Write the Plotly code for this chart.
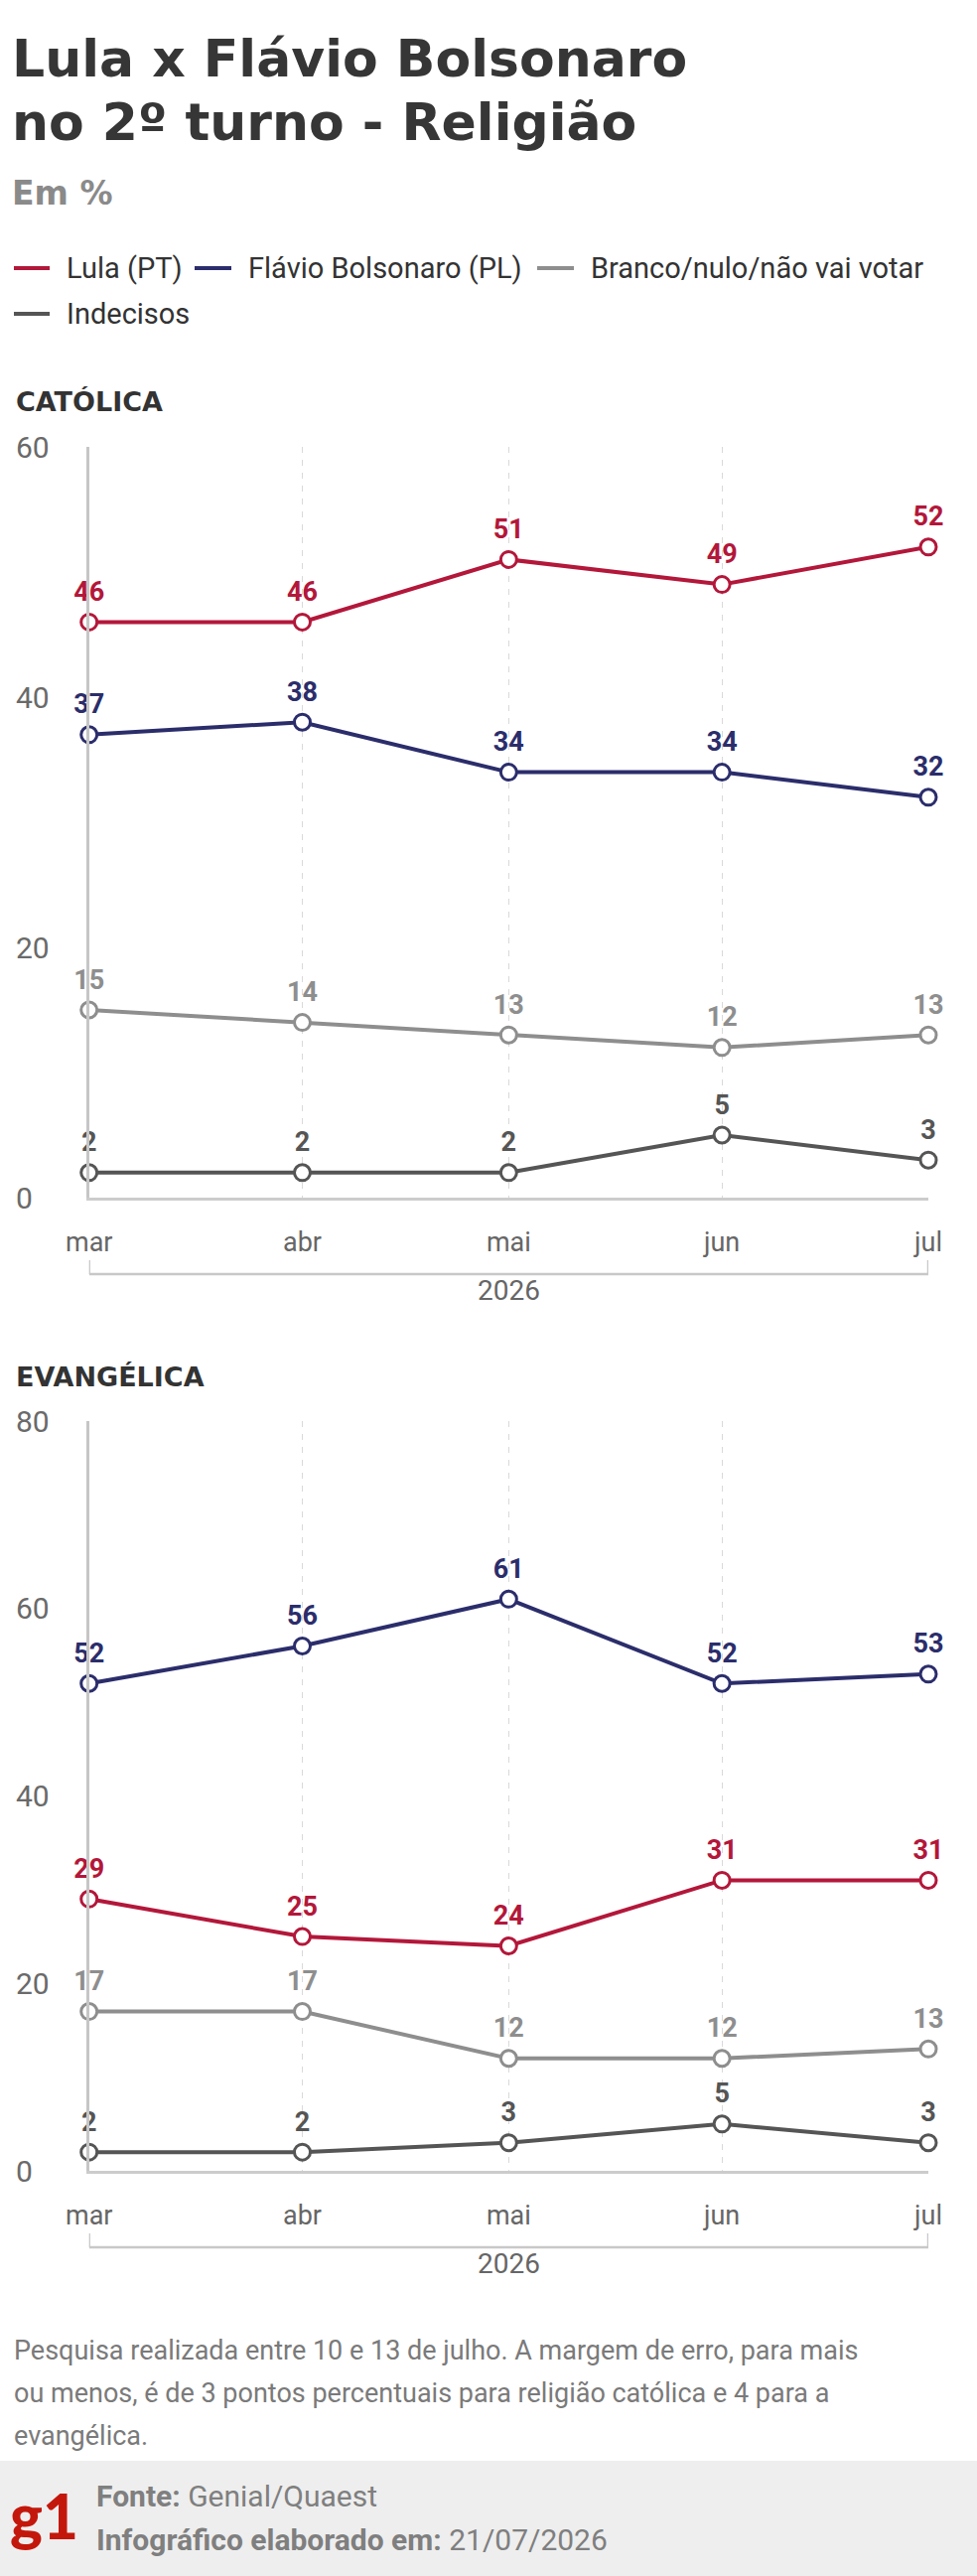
import plotly.graph_objects as go

W, H = 984, 2594

# ---------------- data ----------------
months = ["2026-03-01", "2026-04-01", "2026-05-01", "2026-06-01", "2026-07-01"]
month_labels = ["mar", "abr", "mai", "jun", "jul"]
year_label = "2026"

series_names = ["Lula (PT)", "Flávio Bolsonaro (PL)", "Branco/nulo/não vai votar", "Indecisos"]
series_colors = ["#b3173a", "#2b2d6b", "#8e8e8e", "#555555"]

catolica_lula = [46, 46, 51, 49, 52]
catolica_flavio = [37, 38, 34, 34, 32]
catolica_branco = [15, 14, 13, 12, 13]
catolica_indecisos = [2, 2, 2, 5, 3]

evangelica_lula = [29, 25, 24, 31, 31]
evangelica_flavio = [52, 56, 61, 52, 53]
evangelica_branco = [17, 17, 12, 12, 13]
evangelica_indecisos = [2, 2, 3, 5, 3]

catolica_ticks = [0, 20, 40, 60]
evangelica_ticks = [0, 20, 40, 60, 80]

panels = [
    ("CATÓLICA", [catolica_lula, catolica_flavio, catolica_branco, catolica_indecisos], catolica_ticks),
    ("EVANGÉLICA", [evangelica_lula, evangelica_flavio, evangelica_branco, evangelica_indecisos], evangelica_ticks),
]

# ---------------- layout geometry (pixels) ----------------
def py(p):
    return 1 - p / H

X_LEFT, X_RIGHT = 89.7, 935.0
panel_px = [(450, 1206), (1431, 2186)]   # (top, bottom) of each plot area
panel_title_px = [404, 1386]

BODY = "Roboto"
HEAD = "DejaVu Sans"
GRID = "#d9d9d9"
AXIS = "#c6c6c6"

fig = go.Figure()
layout_axes = {}
annotations = []
shapes = []

for i, (ptitle, values, ticks) in enumerate(panels):
    xa = "x" if i == 0 else "x2"
    ya = "y" if i == 0 else "y2"
    # lines
    for name, color, vals in zip(series_names, series_colors, values):
        fig.add_trace(go.Scatter(
            x=months, y=vals, mode="lines", name=name,
            line=dict(color=color, width=4),
            showlegend=False,
            xaxis=xa, yaxis=ya, cliponaxis=False, hoverinfo="skip"))
    # open circle markers
    for name, color, vals in zip(series_names, series_colors, values):
        fig.add_trace(go.Scatter(
            x=months, y=vals, mode="markers", name=name,
            marker=dict(symbol="circle", size=16, color="white",
                        line=dict(color=color, width=3)),
            showlegend=False,
            xaxis=xa, yaxis=ya, cliponaxis=False, hoverinfo="skip"))
    # value labels (invisible larger marker sets the label offset)
    for name, color, vals in zip(series_names, series_colors, values):
        fig.add_trace(go.Scatter(
            x=months, y=vals, mode="markers+text", name=name,
            marker=dict(size=22, color="rgba(0,0,0,0)"),
            text=[str(v) for v in vals], textposition="top center",
            textfont=dict(family=BODY, size=27, color=color, weight="bold"),
            showlegend=False,
            xaxis=xa, yaxis=ya, cliponaxis=False, hoverinfo="skip"))

    top, bot = panel_px[i]
    xkey = "xaxis" if i == 0 else "xaxis2"
    ykey = "yaxis" if i == 0 else "yaxis2"
    layout_axes[xkey] = dict(
        type="date", domain=[X_LEFT / W, X_RIGHT / W], anchor=ya,
        range=[months[0], months[-1]],
        tickvals=months, ticktext=month_labels, ticks="",
        ticklabelstandoff=19,
        tickfont=dict(family=BODY, size=27, color="#666666"),
        showgrid=True, gridcolor=GRID, gridwidth=1.2, griddash="6px,7px",
        showline=True, linecolor="#cccccc", linewidth=3,
        zeroline=False, fixedrange=True, automargin=False)
    layout_axes[ykey] = dict(
        domain=[py(bot), py(top)], anchor=xa,
        range=[0, ticks[-1]], tickvals=ticks, showticklabels=False,
        showgrid=False, zeroline=False,
        showline=True, linecolor=AXIS, linewidth=3, ticks="",
        fixedrange=True, automargin=False)

    # y tick labels, left aligned
    for t in ticks:
        annotations.append(dict(
            xref="paper", x=14 / W, xanchor="left",
            yref=ya, y=t, yanchor="middle",
            text=str(t), showarrow=False,
            font=dict(family=BODY, size=30, color="#6a6a6a")))

    # panel title
    annotations.append(dict(
        xref="paper", x=14 / W, xanchor="left",
        yref="paper", y=py(panel_title_px[i]), yanchor="middle",
        text="<b>" + ptitle + "</b>", showarrow=False,
        font=dict(family=HEAD, size=27, color="#333333")))

    # year bracket
    yb1, yb2 = py(bot + 63), py(bot + 77)
    shapes.append(dict(type="line", xref=xa, yref="paper",
                       x0=months[0], x1=months[-1], y0=yb2, y1=yb2,
                       line=dict(color="#c8c8c8", width=2.5)))
    for m in (months[0], months[-1]):
        shapes.append(dict(type="line", xref=xa, yref="paper",
                           x0=m, x1=m, y0=yb1, y1=yb2,
                           line=dict(color="#c8c8c8", width=2.5)))
    annotations.append(dict(
        xref=xa + " domain", x=0.5, xanchor="center",
        yref="paper", y=py(bot + 93), yanchor="middle",
        text=year_label, showarrow=False,
        font=dict(family=BODY, size=28, color="#666666")))

# ---------------- legend (two rows, as in the original) ----------------
legend_rows = [270, 270, 270, 316]
legend_swatch_x = [(14, 50), (196, 233), (541, 578), (14, 50)]
for name, color, yrow, (sx0, sx1) in zip(series_names, series_colors, legend_rows, legend_swatch_x):
    shapes.append(dict(type="line", xref="paper", yref="paper",
                       x0=sx0 / W, x1=sx1 / W, y0=py(yrow), y1=py(yrow),
                       line=dict(color=color, width=4)))
    annotations.append(dict(
        xref="paper", x=(sx1 + 15) / W, xanchor="left",
        yref="paper", y=py(yrow), yanchor="middle",
        text=name, showarrow=False,
        font=dict(family=BODY, size=29, color="#333333")))

# ---------------- titles ----------------
annotations += [
    dict(xref="paper", x=10 / W, xanchor="left", yref="paper", y=py(59), yanchor="middle",
         text="<b>Lula x Flávio Bolsonaro</b>", showarrow=False,
         font=dict(family=HEAD, size=52, color="#363636")),
    dict(xref="paper", x=10 / W, xanchor="left", yref="paper", y=py(123), yanchor="middle",
         text="<b>no 2º turno - Religião</b>", showarrow=False,
         font=dict(family=HEAD, size=52, color="#363636")),
    dict(xref="paper", x=10 / W, xanchor="left", yref="paper", y=py(195), yanchor="middle",
         text="<b>Em %</b>", showarrow=False,
         font=dict(family=HEAD, size=33, color="#8a8a8a")),
]

# ---------------- footnote ----------------
foot_lines = [
    "Pesquisa realizada entre 10 e 13 de julho. A margem de erro, para mais",
    "ou menos, é de 3 pontos percentuais para religião católica e 4 para a",
    "evangélica.",
]
for k, line in enumerate(foot_lines):
    annotations.append(dict(
        xref="paper", x=12 / W, xanchor="left", yref="paper", y=py(2367 + 43 * k),
        yanchor="middle", text=line, showarrow=False,
        font=dict(family=BODY, size=27, color="#7a7a7a")))

# footer band
shapes.append(dict(type="rect", xref="paper", yref="paper", x0=0, x1=1,
                   y0=0, y1=py(2478), fillcolor="#eeeeee", line=dict(width=0),
                   layer="below"))
annotations += [
    dict(xref="paper", x=44 / W, xanchor="center", yref="paper", y=py(2533),
         yanchor="middle", text="g1", showarrow=False,
         font=dict(family="Lato", size=62, color="#c4170c", weight=900)),
    dict(xref="paper", x=95 / W, xanchor="left", yref="paper", y=py(2513),
         yanchor="middle", text="<b>Fonte:</b> Genial/Quaest", showarrow=False,
         font=dict(family=BODY, size=30, color="#7f7f7f")),
    dict(xref="paper", x=95 / W, xanchor="left", yref="paper", y=py(2557),
         yanchor="middle", text="<b>Infográfico elaborado em:</b> 21/07/2026", showarrow=False,
         font=dict(family=BODY, size=30, color="#7f7f7f")),
]

fig.update_layout(
    width=W, height=H,
    margin=dict(l=0, r=0, t=0, b=0, autoexpand=False),
    paper_bgcolor="white", plot_bgcolor="white",
    showlegend=False,
    annotations=annotations,
    shapes=shapes,
    **layout_axes,
)

fig.write_html("out.html")
